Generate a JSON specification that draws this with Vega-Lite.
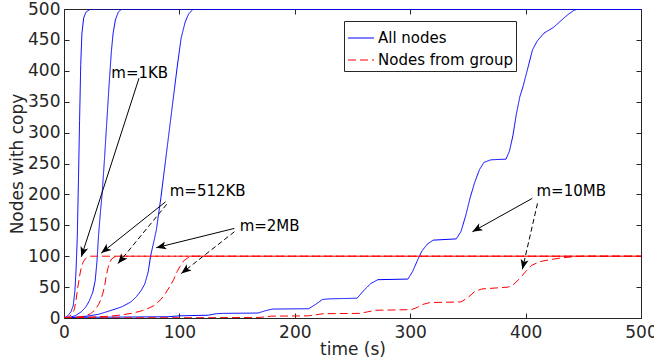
{
  "$schema": "https://vega.github.io/schema/vega-lite/v6.json",
  "width": 577,
  "height": 309,
  "autosize": {"type": "none"},
  "padding": {"left": 64, "top": 9, "right": 13, "bottom": 46},
  "background": "white",
  "config": {
    "view": {"stroke": null},
    "font": "DejaVu Sans",
    "axis": {
      "grid": false,
      "domainColor": "#262626",
      "tickColor": "#262626",
      "labelColor": "#262626",
      "titleColor": "#262626",
      "labelFont": "DejaVu Sans",
      "titleFont": "DejaVu Sans",
      "labelFontSize": 17,
      "titleFontSize": 17,
      "titleFontWeight": "normal",
      "tickSize": -5,
      "tickWidth": 1,
      "domainWidth": 1,
      "labelOverlap": false
    }
  },
  "datasets": {
    "curves": [
      {"m": "1KB", "series": "All nodes", "t": 0, "n": 0},
      {"m": "1KB", "series": "All nodes", "t": 3, "n": 3},
      {"m": "1KB", "series": "All nodes", "t": 6, "n": 10},
      {"m": "1KB", "series": "All nodes", "t": 8, "n": 20},
      {"m": "1KB", "series": "All nodes", "t": 9.5, "n": 45},
      {"m": "1KB", "series": "All nodes", "t": 10.5, "n": 80},
      {"m": "1KB", "series": "All nodes", "t": 11.5, "n": 130},
      {"m": "1KB", "series": "All nodes", "t": 12.5, "n": 220},
      {"m": "1KB", "series": "All nodes", "t": 13.5, "n": 320},
      {"m": "1KB", "series": "All nodes", "t": 14.5, "n": 410},
      {"m": "1KB", "series": "All nodes", "t": 15.5, "n": 460},
      {"m": "1KB", "series": "All nodes", "t": 17, "n": 485},
      {"m": "1KB", "series": "All nodes", "t": 19, "n": 495},
      {"m": "1KB", "series": "All nodes", "t": 23, "n": 500},
      {"m": "1KB", "series": "All nodes", "t": 500, "n": 500},

      {"m": "512KB", "series": "All nodes", "t": 0, "n": 0},
      {"m": "512KB", "series": "All nodes", "t": 5, "n": 1},
      {"m": "512KB", "series": "All nodes", "t": 10, "n": 4},
      {"m": "512KB", "series": "All nodes", "t": 15, "n": 10},
      {"m": "512KB", "series": "All nodes", "t": 19, "n": 18},
      {"m": "512KB", "series": "All nodes", "t": 22, "n": 28},
      {"m": "512KB", "series": "All nodes", "t": 25, "n": 42},
      {"m": "512KB", "series": "All nodes", "t": 27, "n": 60},
      {"m": "512KB", "series": "All nodes", "t": 28.5, "n": 90},
      {"m": "512KB", "series": "All nodes", "t": 30, "n": 135},
      {"m": "512KB", "series": "All nodes", "t": 31.5, "n": 170},
      {"m": "512KB", "series": "All nodes", "t": 33, "n": 200},
      {"m": "512KB", "series": "All nodes", "t": 35, "n": 255},
      {"m": "512KB", "series": "All nodes", "t": 37, "n": 315},
      {"m": "512KB", "series": "All nodes", "t": 39, "n": 375},
      {"m": "512KB", "series": "All nodes", "t": 41, "n": 430},
      {"m": "512KB", "series": "All nodes", "t": 42.5, "n": 460},
      {"m": "512KB", "series": "All nodes", "t": 44.5, "n": 482},
      {"m": "512KB", "series": "All nodes", "t": 47, "n": 495},
      {"m": "512KB", "series": "All nodes", "t": 50, "n": 500},
      {"m": "512KB", "series": "All nodes", "t": 500, "n": 500},

      {"m": "2MB", "series": "All nodes", "t": 0, "n": 0},
      {"m": "2MB", "series": "All nodes", "t": 10, "n": 1},
      {"m": "2MB", "series": "All nodes", "t": 20, "n": 3},
      {"m": "2MB", "series": "All nodes", "t": 30, "n": 6},
      {"m": "2MB", "series": "All nodes", "t": 42, "n": 13},
      {"m": "2MB", "series": "All nodes", "t": 50, "n": 18},
      {"m": "2MB", "series": "All nodes", "t": 58, "n": 26},
      {"m": "2MB", "series": "All nodes", "t": 63, "n": 35},
      {"m": "2MB", "series": "All nodes", "t": 67, "n": 45},
      {"m": "2MB", "series": "All nodes", "t": 70, "n": 55},
      {"m": "2MB", "series": "All nodes", "t": 73, "n": 75},
      {"m": "2MB", "series": "All nodes", "t": 75, "n": 100},
      {"m": "2MB", "series": "All nodes", "t": 78, "n": 125},
      {"m": "2MB", "series": "All nodes", "t": 80, "n": 142},
      {"m": "2MB", "series": "All nodes", "t": 84, "n": 195},
      {"m": "2MB", "series": "All nodes", "t": 89, "n": 270},
      {"m": "2MB", "series": "All nodes", "t": 94, "n": 345},
      {"m": "2MB", "series": "All nodes", "t": 98, "n": 405},
      {"m": "2MB", "series": "All nodes", "t": 101.5, "n": 453},
      {"m": "2MB", "series": "All nodes", "t": 105, "n": 479},
      {"m": "2MB", "series": "All nodes", "t": 108, "n": 492},
      {"m": "2MB", "series": "All nodes", "t": 112, "n": 500},
      {"m": "2MB", "series": "All nodes", "t": 500, "n": 500},

      {"m": "10MB", "series": "All nodes", "t": 0, "n": 1},
      {"m": "10MB", "series": "All nodes", "t": 50, "n": 1.5},
      {"m": "10MB", "series": "All nodes", "t": 90, "n": 2},
      {"m": "10MB", "series": "All nodes", "t": 100, "n": 3.5},
      {"m": "10MB", "series": "All nodes", "t": 125, "n": 4.5},
      {"m": "10MB", "series": "All nodes", "t": 132, "n": 7},
      {"m": "10MB", "series": "All nodes", "t": 138, "n": 7.5},
      {"m": "10MB", "series": "All nodes", "t": 168, "n": 8},
      {"m": "10MB", "series": "All nodes", "t": 175, "n": 12},
      {"m": "10MB", "series": "All nodes", "t": 181, "n": 14.5},
      {"m": "10MB", "series": "All nodes", "t": 212, "n": 15},
      {"m": "10MB", "series": "All nodes", "t": 218, "n": 22},
      {"m": "10MB", "series": "All nodes", "t": 224, "n": 30},
      {"m": "10MB", "series": "All nodes", "t": 230, "n": 31},
      {"m": "10MB", "series": "All nodes", "t": 254, "n": 32},
      {"m": "10MB", "series": "All nodes", "t": 260, "n": 45},
      {"m": "10MB", "series": "All nodes", "t": 266, "n": 56},
      {"m": "10MB", "series": "All nodes", "t": 272, "n": 62},
      {"m": "10MB", "series": "All nodes", "t": 298, "n": 63},
      {"m": "10MB", "series": "All nodes", "t": 302, "n": 75},
      {"m": "10MB", "series": "All nodes", "t": 306, "n": 92},
      {"m": "10MB", "series": "All nodes", "t": 310, "n": 108},
      {"m": "10MB", "series": "All nodes", "t": 315, "n": 120},
      {"m": "10MB", "series": "All nodes", "t": 320, "n": 126},
      {"m": "10MB", "series": "All nodes", "t": 340, "n": 128},
      {"m": "10MB", "series": "All nodes", "t": 344, "n": 140},
      {"m": "10MB", "series": "All nodes", "t": 348, "n": 165},
      {"m": "10MB", "series": "All nodes", "t": 352, "n": 195},
      {"m": "10MB", "series": "All nodes", "t": 356, "n": 220},
      {"m": "10MB", "series": "All nodes", "t": 360, "n": 240},
      {"m": "10MB", "series": "All nodes", "t": 364, "n": 252},
      {"m": "10MB", "series": "All nodes", "t": 370, "n": 256},
      {"m": "10MB", "series": "All nodes", "t": 383, "n": 257},
      {"m": "10MB", "series": "All nodes", "t": 386, "n": 270},
      {"m": "10MB", "series": "All nodes", "t": 389, "n": 295},
      {"m": "10MB", "series": "All nodes", "t": 392, "n": 330},
      {"m": "10MB", "series": "All nodes", "t": 395, "n": 358},
      {"m": "10MB", "series": "All nodes", "t": 398, "n": 376},
      {"m": "10MB", "series": "All nodes", "t": 402, "n": 405},
      {"m": "10MB", "series": "All nodes", "t": 406, "n": 434},
      {"m": "10MB", "series": "All nodes", "t": 410, "n": 448},
      {"m": "10MB", "series": "All nodes", "t": 416, "n": 461},
      {"m": "10MB", "series": "All nodes", "t": 424, "n": 470},
      {"m": "10MB", "series": "All nodes", "t": 430, "n": 480},
      {"m": "10MB", "series": "All nodes", "t": 436, "n": 490},
      {"m": "10MB", "series": "All nodes", "t": 442, "n": 498},
      {"m": "10MB", "series": "All nodes", "t": 446, "n": 500},
      {"m": "10MB", "series": "All nodes", "t": 500, "n": 500},

      {"m": "1KB", "series": "Nodes from group", "t": 0, "n": 0},
      {"m": "1KB", "series": "Nodes from group", "t": 4, "n": 2},
      {"m": "1KB", "series": "Nodes from group", "t": 7, "n": 6},
      {"m": "1KB", "series": "Nodes from group", "t": 9, "n": 14},
      {"m": "1KB", "series": "Nodes from group", "t": 10.5, "n": 30},
      {"m": "1KB", "series": "Nodes from group", "t": 12, "n": 50},
      {"m": "1KB", "series": "Nodes from group", "t": 13.5, "n": 68},
      {"m": "1KB", "series": "Nodes from group", "t": 15, "n": 82},
      {"m": "1KB", "series": "Nodes from group", "t": 16.5, "n": 90},
      {"m": "1KB", "series": "Nodes from group", "t": 18.5, "n": 96},
      {"m": "1KB", "series": "Nodes from group", "t": 21, "n": 99},
      {"m": "1KB", "series": "Nodes from group", "t": 23, "n": 100},
      {"m": "1KB", "series": "Nodes from group", "t": 500, "n": 100},

      {"m": "512KB", "series": "Nodes from group", "t": 0, "n": 0},
      {"m": "512KB", "series": "Nodes from group", "t": 10, "n": 1},
      {"m": "512KB", "series": "Nodes from group", "t": 18, "n": 3},
      {"m": "512KB", "series": "Nodes from group", "t": 23, "n": 7},
      {"m": "512KB", "series": "Nodes from group", "t": 27, "n": 13},
      {"m": "512KB", "series": "Nodes from group", "t": 30, "n": 22},
      {"m": "512KB", "series": "Nodes from group", "t": 32, "n": 30},
      {"m": "512KB", "series": "Nodes from group", "t": 34, "n": 42},
      {"m": "512KB", "series": "Nodes from group", "t": 35.5, "n": 55},
      {"m": "512KB", "series": "Nodes from group", "t": 36.5, "n": 67},
      {"m": "512KB", "series": "Nodes from group", "t": 38, "n": 80},
      {"m": "512KB", "series": "Nodes from group", "t": 39.5, "n": 90},
      {"m": "512KB", "series": "Nodes from group", "t": 41.5, "n": 96},
      {"m": "512KB", "series": "Nodes from group", "t": 44, "n": 99},
      {"m": "512KB", "series": "Nodes from group", "t": 46, "n": 100},
      {"m": "512KB", "series": "Nodes from group", "t": 500, "n": 100},

      {"m": "2MB", "series": "Nodes from group", "t": 0, "n": 0},
      {"m": "2MB", "series": "Nodes from group", "t": 20, "n": 1},
      {"m": "2MB", "series": "Nodes from group", "t": 40, "n": 3},
      {"m": "2MB", "series": "Nodes from group", "t": 50, "n": 5},
      {"m": "2MB", "series": "Nodes from group", "t": 60, "n": 8},
      {"m": "2MB", "series": "Nodes from group", "t": 70, "n": 13},
      {"m": "2MB", "series": "Nodes from group", "t": 78, "n": 20},
      {"m": "2MB", "series": "Nodes from group", "t": 84, "n": 30},
      {"m": "2MB", "series": "Nodes from group", "t": 88, "n": 40},
      {"m": "2MB", "series": "Nodes from group", "t": 92, "n": 52},
      {"m": "2MB", "series": "Nodes from group", "t": 95, "n": 62},
      {"m": "2MB", "series": "Nodes from group", "t": 98, "n": 75},
      {"m": "2MB", "series": "Nodes from group", "t": 101, "n": 85},
      {"m": "2MB", "series": "Nodes from group", "t": 104, "n": 93},
      {"m": "2MB", "series": "Nodes from group", "t": 107, "n": 97},
      {"m": "2MB", "series": "Nodes from group", "t": 110, "n": 100},
      {"m": "2MB", "series": "Nodes from group", "t": 500, "n": 100},

      {"m": "10MB", "series": "Nodes from group", "t": 0, "n": 0},
      {"m": "10MB", "series": "Nodes from group", "t": 125, "n": 0.5},
      {"m": "10MB", "series": "Nodes from group", "t": 170, "n": 1},
      {"m": "10MB", "series": "Nodes from group", "t": 180, "n": 3},
      {"m": "10MB", "series": "Nodes from group", "t": 212, "n": 3.5},
      {"m": "10MB", "series": "Nodes from group", "t": 225, "n": 7},
      {"m": "10MB", "series": "Nodes from group", "t": 257, "n": 7.5},
      {"m": "10MB", "series": "Nodes from group", "t": 263, "n": 10},
      {"m": "10MB", "series": "Nodes from group", "t": 270, "n": 12.5},
      {"m": "10MB", "series": "Nodes from group", "t": 301, "n": 13.5},
      {"m": "10MB", "series": "Nodes from group", "t": 306, "n": 17},
      {"m": "10MB", "series": "Nodes from group", "t": 311, "n": 22},
      {"m": "10MB", "series": "Nodes from group", "t": 317, "n": 25},
      {"m": "10MB", "series": "Nodes from group", "t": 344, "n": 26},
      {"m": "10MB", "series": "Nodes from group", "t": 350, "n": 33},
      {"m": "10MB", "series": "Nodes from group", "t": 356, "n": 43},
      {"m": "10MB", "series": "Nodes from group", "t": 362, "n": 47},
      {"m": "10MB", "series": "Nodes from group", "t": 385, "n": 50},
      {"m": "10MB", "series": "Nodes from group", "t": 390, "n": 55},
      {"m": "10MB", "series": "Nodes from group", "t": 395, "n": 64},
      {"m": "10MB", "series": "Nodes from group", "t": 400, "n": 75},
      {"m": "10MB", "series": "Nodes from group", "t": 405, "n": 85},
      {"m": "10MB", "series": "Nodes from group", "t": 412, "n": 91},
      {"m": "10MB", "series": "Nodes from group", "t": 420, "n": 94},
      {"m": "10MB", "series": "Nodes from group", "t": 430, "n": 97},
      {"m": "10MB", "series": "Nodes from group", "t": 440, "n": 99},
      {"m": "10MB", "series": "Nodes from group", "t": 450, "n": 100},
      {"m": "10MB", "series": "Nodes from group", "t": 500, "n": 100}
    ],
    "arrows": [
      {"m": "1KB", "target": "All nodes", "x": 65, "y": 388, "tx": 15, "ty": 99},
      {"m": "512KB", "target": "All nodes", "x": 88, "y": 188, "tx": 32.3, "ty": 105},
      {"m": "512KB", "target": "Nodes from group", "x": 89, "y": 184, "tx": 46.8, "ty": 88},
      {"m": "2MB", "target": "All nodes", "x": 147.7, "y": 145, "tx": 79.9, "ty": 113.7},
      {"m": "2MB", "target": "Nodes from group", "x": 147.7, "y": 139.6, "tx": 101.6, "ty": 72},
      {"m": "10MB", "target": "All nodes", "x": 405.8, "y": 193.6, "tx": 353.9, "ty": 139.6},
      {"m": "10MB", "target": "Nodes from group", "x": 410.3, "y": 185.5, "tx": 397.2, "ty": 78.8}
    ],
    "labels": [
      {"text": "m=1KB", "x": 41, "y": 397},
      {"text": "m=512KB", "x": 91.6, "y": 205.5},
      {"text": "m=2MB", "x": 152.2, "y": 149},
      {"text": "m=10MB", "x": 409.4, "y": 206.3}
    ]
  },
  "layer": [
    {
      "data": {"name": "curves"},
      "mark": {"type": "line", "strokeWidth": 1, "clip": true},
      "encoding": {
        "x": {
          "field": "t", "type": "quantitative",
          "scale": {"domain": [0, 500], "nice": false},
          "axis": {
            "orient": "bottom", "values": [0, 100, 200, 300, 400, 500],
            "title": "time (s)", "labelPadding": 11, "labelFlush": false,
            "titleX": 288.5, "titleY": 31, "titleBaseline": "middle", "titleAlign": "center"
          }
        },
        "y": {
          "field": "n", "type": "quantitative",
          "scale": {"domain": [0, 500], "nice": false},
          "axis": {
            "orient": "left", "values": [0, 50, 100, 150, 200, 250, 300, 350, 400, 450, 500],
            "title": "Nodes with copy", "labelPadding": 9,
            "titleX": -47, "titleY": 154.5, "titleAngle": -90, "titleBaseline": "middle", "titleAlign": "center"
          }
        },
        "stroke": {
          "field": "series", "type": "nominal",
          "scale": {"domain": ["All nodes", "Nodes from group"], "range": ["#0000ff", "#ff0000"]},
          "legend": {
            "title": null, "orient": "none", "legendX": 280, "legendY": 12,
            "symbolType": "stroke", "symbolSize": 676, "symbolStrokeWidth": 1.2,
            "labelFont": "DejaVu Sans", "labelFontSize": 15, "labelColor": "#000000",
            "strokeColor": "#262626", "fillColor": "white", "padding": 3, "rowPadding": 0,
            "labelOffset": 3, "labelLimit": 300,
            "encode": {"symbols": {"update": {
              "stroke": {"signal": "datum.value === 'All nodes' ? '#0000ff' : '#ff0000'"},
              "strokeDash": {"signal": "datum.value === 'All nodes' ? [1, 0] : [8, 4]"}
            }}}
          }
        },
        "strokeDash": {
          "field": "series", "type": "nominal",
          "scale": {"domain": ["All nodes", "Nodes from group"], "range": [[1, 0], [8, 4]]},
          "legend": null
        },
        "detail": {"field": "m", "type": "nominal"}
      }
    },
    {
      "data": {"name": "arrows"},
      "transform": [{"filter": "datum.target === 'All nodes'"}],
      "mark": {"type": "rule", "color": "black", "strokeWidth": 1},
      "encoding": {
        "x": {"field": "x", "type": "quantitative", "axis": {"orient": "top", "values": [0, 100, 200, 300, 400, 500], "labels": false, "title": null}},
        "y": {"field": "y", "type": "quantitative", "axis": {"orient": "right", "values": [0, 50, 100, 150, 200, 250, 300, 350, 400, 450, 500], "labels": false, "title": null}},
        "x2": {"field": "tx"},
        "y2": {"field": "ty"}
      }
    },
    {
      "data": {"name": "arrows"},
      "transform": [{"filter": "datum.target === 'Nodes from group'"}],
      "mark": {"type": "rule", "color": "black", "strokeWidth": 1, "strokeDash": [5, 3]},
      "encoding": {
        "x": {"field": "x", "type": "quantitative", "axis": null},
        "y": {"field": "y", "type": "quantitative", "axis": null},
        "x2": {"field": "tx"},
        "y2": {"field": "ty"}
      }
    },
    {
      "data": {"name": "arrows"},
      "transform": [
        {"calculate": "atan2((datum.tx - datum.x) * 577 / 500, (datum.ty - datum.y) * 309 / 500) * 180 / PI", "as": "ang"}
      ],
      "mark": {"type": "point", "shape": "M0,0L-0.8,2L0,1.5L0.8,2Z", "filled": true, "color": "black", "opacity": 1, "size": 100, "strokeWidth": 0},
      "encoding": {
        "x": {"field": "tx", "type": "quantitative", "axis": null},
        "y": {"field": "ty", "type": "quantitative", "axis": null},
        "angle": {"field": "ang", "type": "quantitative", "scale": null}
      }
    },
    {
      "data": {"name": "labels"},
      "mark": {"type": "text", "align": "left", "baseline": "middle", "font": "DejaVu Sans", "fontSize": 15, "color": "black"},
      "encoding": {
        "x": {"field": "x", "type": "quantitative", "axis": null},
        "y": {"field": "y", "type": "quantitative", "axis": null},
        "text": {"field": "text"}
      }
    }
  ],
  "resolve": {"axis": {"x": "independent", "y": "independent"}}
}
